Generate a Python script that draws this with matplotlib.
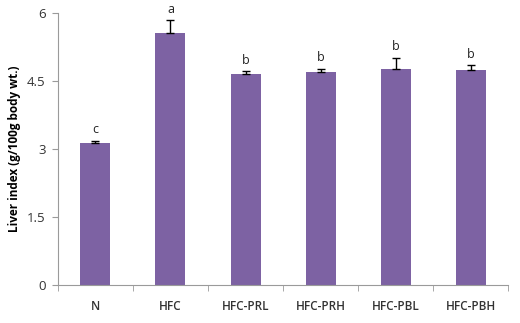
import numpy as np
import matplotlib
matplotlib.use('Agg')
import matplotlib.pyplot as plt

# --datos
groups = ['N', 'HFC', 'HFC-PRL', 'HFC-PRH', 'HFC-PBL', 'HFC-PBH']
values = [3.14, 5.56, 4.65, 4.71, 4.78, 4.75]
errors = [0.05, 0.29, 0.07, 0.07, 0.24, 0.10]
letters = ['c', 'a', 'b', 'b', 'b', 'b']
yticks = [0, 1.5, 3, 4.5, 6]

plt.rcParams['font.family'] = ['Open Sans', 'DejaVu Sans']

fig = plt.figure(figsize=(5.2, 3.23), dpi=100)
ax = fig.add_axes([0.1115, 0.1176, 0.8655, 0.8412])

x = np.arange(len(groups))
ax.bar(x, values, width=0.4, color='#7D62A3', zorder=2)
ax.errorbar(x, values, yerr=[np.zeros(len(errors)), errors], fmt='none',
            ecolor='black', elinewidth=1, capsize=3, capthick=1, zorder=3)
for xi, v, e, l in zip(x, values, errors, letters):
    ax.text(xi, v + e + 0.1, l, ha='center', va='bottom', fontsize=9, color='#222222')

ax.set_xlim(-0.5, len(groups) - 0.5)
ax.set_ylim(0, 6)
ax.set_yticks(yticks)
ax.set_yticklabels(['0', '1.5', '3', '4.5', '6'])
ax.set_xticks(x)
ax.set_xticklabels(groups, fontweight='semibold')
ax.set_xticks(np.arange(len(groups) + 1) - 0.5, minor=True)

for s in ['top', 'right']:
    ax.spines[s].set_visible(False)
for s in ['left', 'bottom']:
    ax.spines[s].set_color('#9a9a9a')

ax.tick_params(axis='y', length=4, color='#9a9a9a', labelsize=9.5, labelcolor='#333333', pad=5)
ax.tick_params(axis='x', which='major', length=0, labelsize=8.5, labelcolor='#333333', pad=11)
ax.tick_params(axis='x', which='minor', length=4, color='#9a9a9a')

ax.set_ylabel('Liver index (g/100g body wt.)', fontweight='bold', fontsize=8.5, labelpad=4)

plt.savefig('out.png', dpi=100)
